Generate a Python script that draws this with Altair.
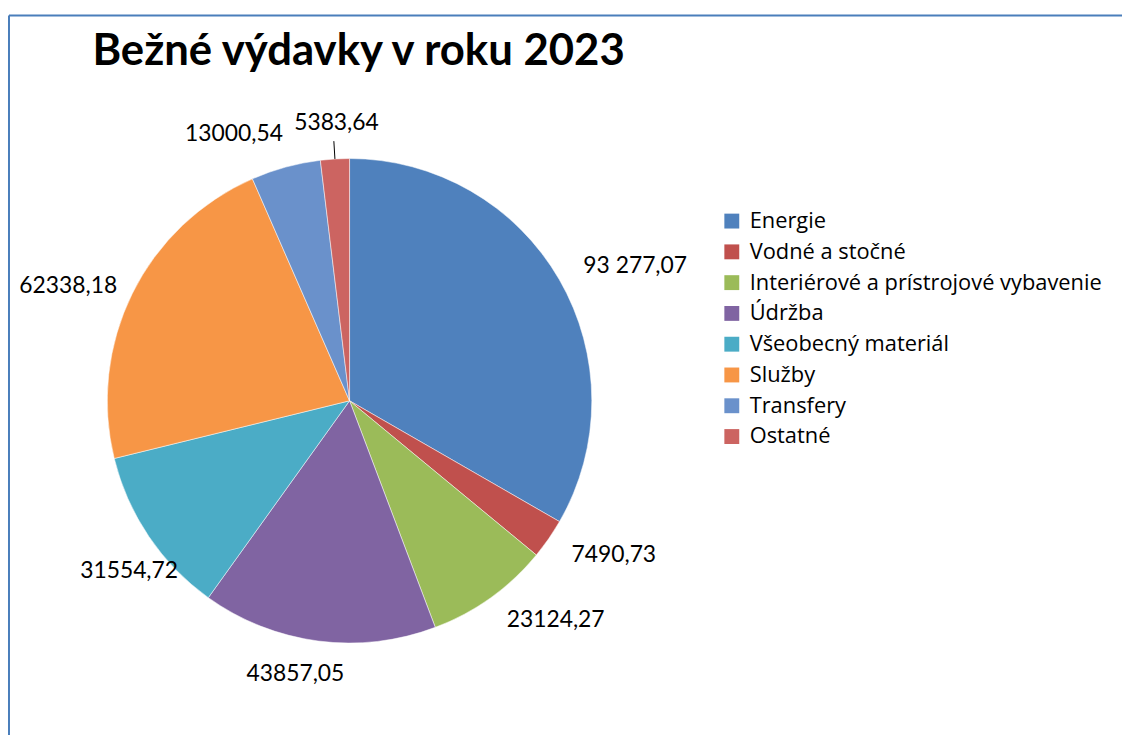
import altair as alt
import pandas as pd

TITLE = "Bežné výdavky v roku 2023"
categories = ["Energie", "Vodné a stočné", "Interiérové a prístrojové vybavenie", "Údržba",
              "Všeobecný materiál", "Služby", "Transfery", "Ostatné"]
values = [93277.07, 7490.73, 23124.27, 43857.05, 31554.72, 62338.18, 13000.54, 5383.64]
value_labels = ["93 277,07", "7490,73", "23124,27", "43857,05", "31554,72", "62338,18", "13000,54", "5383,64"]
colors = ["#4F81BD", "#C0504D", "#9BBB59", "#8064A2", "#4BACC6", "#F79646", "#6A91CB", "#CC6461"]

df = pd.DataFrame({"idx": list(range(len(categories))), "cat": categories,
                   "value": values, "label": value_labels})

FONT = "Lato"
CX, CY, R = 343, 388, 244
W, H = 1121, 722

base = alt.Chart(df)
theta = alt.Theta("value:Q", stack=True)
order = alt.Order("idx:Q", sort="ascending")
cx = alt.value(CX)
cy = alt.value(CY)

pie = base.mark_arc(outerRadius=R, stroke="white", strokeWidth=0.5).encode(
    theta=theta, order=order, x=cx, y=cy,
    color=alt.Color("cat:N", scale=alt.Scale(domain=categories, range=colors),
                    sort=categories,
                    legend=alt.Legend(title=None, orient="none", legendX=717, legendY=196,
                                      symbolType="square", symbolSize=225, symbolStrokeWidth=0,
                                      labelFont="Open Sans", labelFontSize=22, labelColor="#000000",
                                      labelOffset=7, rowPadding=9, labelLimit=0, padding=0)),
)


def label_layer(cats, radius, align, baseline, dx=0, dy=0):
    return base.mark_text(radius=radius, align=align, baseline=baseline, font=FONT,
                          fontSize=23, color="#000000", dx=dx, dy=dy).encode(
        theta=theta, order=order, x=cx, y=cy,
        text=alt.condition(alt.FieldOneOfPredicate(field="cat", oneOf=cats),
                           alt.Text("label:N"), alt.value("")),
    )


labels = [
    label_layer(["Energie", "Vodné a stočné", "Interiérové a prístrojové vybavenie"], 272, "left", "middle"),
    label_layer(["Údržba"], 266, "center", "top", dx=-20),
    label_layer(["Všeobecný materiál"], 268, "center", "top", dy=10),
    label_layer(["Služby"], 261, "right", "middle"),
    label_layer(["Transfery"], 266, "right", "bottom", dx=3),
    label_layer(["Ostatné"], 268, "center", "bottom", dx=3),
]

leader = base.transform_joinaggregate(total="sum(value)").transform_window(
    cum="sum(value)", sort=[alt.SortField("idx")], frame=[None, 0]
).transform_calculate(
    mid="(datum.cum - datum.value / 2) / datum.total * 2 * PI",
).transform_calculate(
    x1=f"{CX} + {R} * sin(datum.mid)", y1=f"{CY} - {R} * cos(datum.mid)",
    x2=f"{CX} + 262 * sin(datum.mid)", y2=f"{CY} - 262 * cos(datum.mid)",
).transform_filter(alt.datum.cat == "Ostatné").mark_rule(color="#000000", strokeWidth=1).encode(
    x=alt.X("x1:Q", scale=None, axis=None), y=alt.Y("y1:Q", scale=None, axis=None),
    x2="x2:Q", y2="y2:Q",
)

title = alt.Chart(pd.DataFrame({"t": [TITLE]})).mark_text(
    align="left", baseline="alphabetic", font=FONT, fontSize=44, fontWeight="bold", color="#000000"
).encode(text="t:N", x=alt.value(84), y=alt.value(50))

border_top = alt.Chart(pd.DataFrame({"t": [0]})).mark_rule(color="#4A7EBB", strokeWidth=2).encode(
    x=alt.value(0), x2=alt.value(W + 2), y=alt.value(0))
border_left = alt.Chart(pd.DataFrame({"t": [0]})).mark_rule(color="#4A7EBB", strokeWidth=2).encode(
    x=alt.value(0), y=alt.value(0), y2=alt.value(H + 10))

chart = alt.layer(pie, *labels, leader, title, border_top, border_left).properties(
    width=W, height=H, autosize=alt.AutoSizeParams(type="none"),
    padding={"left": 1, "top": 5, "right": 0, "bottom": 0},
    background="white",
).configure_view(stroke=None)

chart.save("out.html", embed_options={"renderer": "svg", "actions": False})
